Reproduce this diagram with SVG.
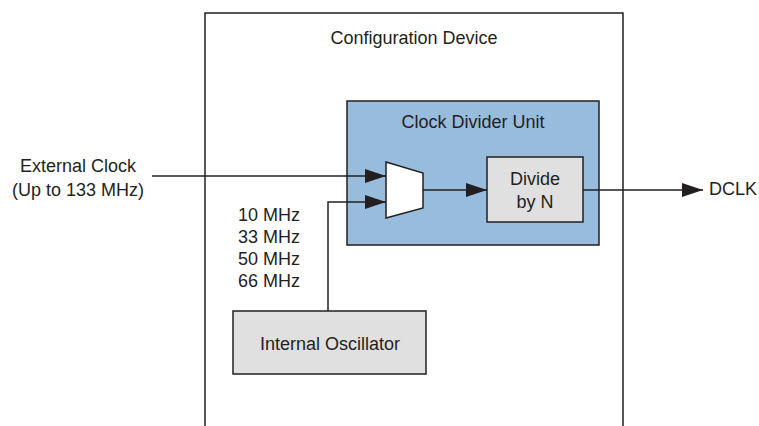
<svg xmlns="http://www.w3.org/2000/svg" width="759" height="426" viewBox="0 0 759 426">
<defs>
<style>
text{font-family:"Liberation Sans",Arial,sans-serif;font-size:18px;fill:#231f20}
.ln{stroke:#231f20;stroke-width:1.5;fill:none}
.box{stroke:#231f20;stroke-width:1.5}
</style>
<marker id="ah" markerWidth="21" markerHeight="14" refX="21" refY="7" orient="auto" markerUnits="userSpaceOnUse">
<path d="M0,0 L21,7 L0,14 Z" fill="#231f20"/>
</marker>
</defs>
<rect width="759" height="426" fill="#fff"/>
<g id="config-device">
<path class="ln" d="M205,430 V13 H623 V430"/>
<text x="414" y="44" text-anchor="middle">Configuration Device</text>
</g>
<g id="clock-divider-unit">
<rect class="box" x="347" y="101" width="252" height="144" fill="#97bcdc"/>
<text x="473" y="128" text-anchor="middle">Clock Divider Unit</text>
</g>
<g id="mux">
<path class="box" d="M386,162 L423,173 L423,208 L386,218 Z" fill="#fff"/>
</g>
<g id="divide-by-n">
<rect class="box" x="487" y="157" width="96" height="65" fill="#e0e0e0"/>
<text x="535" y="185" text-anchor="middle">Divide</text>
<text x="535" y="208" text-anchor="middle">by N</text>
</g>
<g id="internal-oscillator">
<rect class="box" x="233" y="311" width="193" height="63" fill="#e0e0e0"/>
<text x="330" y="350" text-anchor="middle">Internal Oscillator</text>
</g>
<g id="labels">
<text x="78" y="172" text-anchor="middle">External Clock</text>
<text x="78" y="196" text-anchor="middle">(Up to 133 MHz)</text>
<text x="238" y="221">10 MHz</text>
<text x="238" y="243">33 MHz</text>
<text x="238" y="265">50 MHz</text>
<text x="238" y="287">66 MHz</text>
<text x="709" y="195">DCLK</text>
</g>
<g id="connectors">
<path class="ln" d="M152,176 H386" marker-end="url(#ah)"/>
<path class="ln" d="M328,311 V202 H386" marker-end="url(#ah)"/>
<path class="ln" d="M423,190 H487" marker-end="url(#ah)"/>
<path class="ln" d="M583,190 H703" marker-end="url(#ah)"/>
</g>
</svg>
